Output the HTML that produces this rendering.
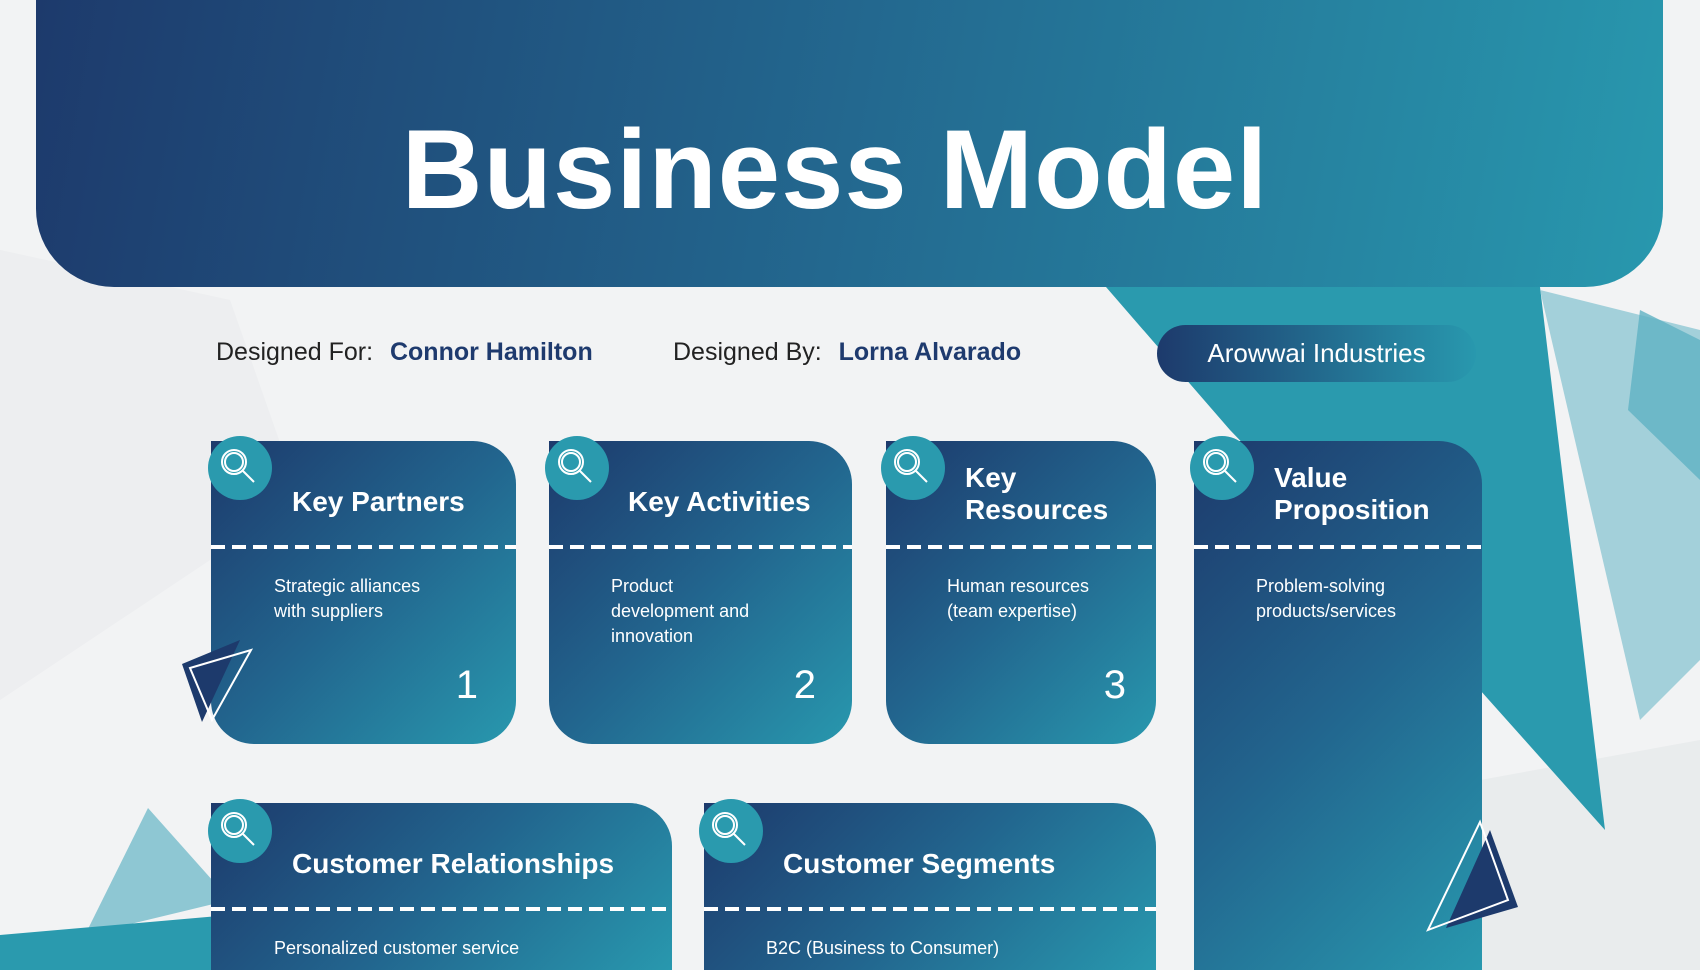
<!DOCTYPE html>
<html><head><meta charset="utf-8"><style>
*{margin:0;padding:0;box-sizing:border-box}
html,body{width:1700px;height:970px;overflow:hidden}
body{position:relative;background:#f2f3f4;font-family:"Liberation Sans",sans-serif}
.abs{position:absolute}
.hdr{left:36px;top:-10px;width:1627px;height:297px;border-radius:0 0 78px 78px;background:linear-gradient(100deg,#1d3a6c 0%,#23688f 50%,#2898ae 100%)}
.title{left:0;width:1670px;top:105px;text-align:center;color:#fff;font-size:112px;font-weight:bold;letter-spacing:1px}
.meta{top:338px;font-size:25px;color:#222}
.meta b{color:#1e3a6e;margin-left:10px}
.pill{left:1157px;top:325px;width:319px;height:57px;border-radius:29px;background:linear-gradient(90deg,#1d3a6c,#2898ae);color:#fff;font-size:26px;text-align:center;line-height:57px}
.card{border-radius:0 43px 43px 43px;background:linear-gradient(135deg,#1d3a6c 0%,#22658e 50%,#2898ae 100%);overflow:hidden}
.card .dash{position:absolute;left:0;right:0;top:104px;height:4px;background:repeating-linear-gradient(90deg,#fff 0 14px,transparent 14px 21px)}
.card h2{position:absolute;color:#fff;font-size:28px;font-weight:bold;line-height:32px}
.card p{position:absolute;color:#fff;font-size:18px;line-height:25px}
.card .n{position:absolute;color:#fff;font-size:40px}
</style></head><body>
<svg class="abs" style="left:0;top:0" width="1700" height="970">
<polygon points="0,250 230,300 300,500 0,700" fill="#e8eaec" opacity="0.5"/>
<polygon points="1370,800 1700,740 1700,970 1330,970" fill="#e6e8ea" opacity="0.7"/>
<polygon points="1106,287 1540,287 1605,830 1480,690 1230,430" fill="#2a9aae"/>
<polygon points="1540,290 1700,330 1700,660 1640,720" fill="#8ec7d3" opacity="0.8"/>
<polygon points="1640,310 1700,340 1700,480 1628,410" fill="#5fb2c3" opacity="0.8"/>
<polygon points="148,808 230,900 85,935" fill="#8ec7d3"/>
<polygon points="0,935 230,915 230,970 0,970" fill="#2a9aae"/>
</svg>
<div class="abs hdr"></div>
<div class="abs title">Business Model</div>
<div class="abs meta" style="left:216px">Designed For: <b>Connor Hamilton</b></div>
<div class="abs meta" style="left:673px">Designed By: <b>Lorna Alvarado</b></div>
<div class="abs pill">Arowwai Industries</div>

<div class="abs card" style="left:211px;top:441px;width:305px;height:303px"><h2 style="left:81px;top:45px">Key Partners</h2><div class="dash"></div><p style="left:63px;top:133px">Strategic alliances<br>with suppliers</p><div class="n" style="right:38px;top:222px">1</div></div>
<div class="abs card" style="left:549px;top:441px;width:303px;height:303px"><h2 style="left:79px;top:45px">Key Activities</h2><div class="dash"></div><p style="left:62px;top:133px">Product<br>development and<br>innovation</p><div class="n" style="right:36px;top:222px">2</div></div>
<div class="abs card" style="left:886px;top:441px;width:270px;height:303px"><h2 style="left:79px;top:21px">Key<br>Resources</h2><div class="dash"></div><p style="left:61px;top:133px">Human resources<br>(team expertise)</p><div class="n" style="right:30px;top:222px">3</div></div>
<div class="abs card" style="left:1194px;top:441px;width:288px;height:529px;border-radius:0 43px 0 0"><h2 style="left:80px;top:21px">Value<br>Proposition</h2><div class="dash"></div><p style="left:62px;top:133px">Problem-solving<br>products/services</p></div>
<div class="abs card" style="left:211px;top:803px;width:461px;height:167px;border-radius:0 43px 0 0"><h2 style="left:81px;top:45px">Customer Relationships</h2><div class="dash"></div><p style="left:63px;top:133px">Personalized customer service</p></div>
<div class="abs card" style="left:704px;top:803px;width:452px;height:167px;border-radius:0 43px 0 0"><h2 style="left:79px;top:45px">Customer Segments</h2><div class="dash"></div><p style="left:62px;top:133px">B2C (Business to Consumer)</p></div>

<svg class="abs" style="left:0;top:0" width="1700" height="970">
<g fill="#2a9aae"><circle cx="240" cy="468" r="32"/><circle cx="577" cy="468" r="32"/><circle cx="913" cy="468" r="32"/><circle cx="1222" cy="468" r="32"/><circle cx="240" cy="831" r="32"/><circle cx="731" cy="831" r="32"/></g>
<g fill="none" stroke="#fff" stroke-width="2">
<g transform="translate(240,468)"><circle cx="-6" cy="-6" r="12"/><circle cx="-6" cy="-6" r="9"/><path d="M3,3 L14,14"/></g>
<g transform="translate(577,468)"><circle cx="-6" cy="-6" r="12"/><circle cx="-6" cy="-6" r="9"/><path d="M3,3 L14,14"/></g>
<g transform="translate(913,468)"><circle cx="-6" cy="-6" r="12"/><circle cx="-6" cy="-6" r="9"/><path d="M3,3 L14,14"/></g>
<g transform="translate(1222,468)"><circle cx="-6" cy="-6" r="12"/><circle cx="-6" cy="-6" r="9"/><path d="M3,3 L14,14"/></g>
<g transform="translate(240,831)"><circle cx="-6" cy="-6" r="12"/><circle cx="-6" cy="-6" r="9"/><path d="M3,3 L14,14"/></g>
<g transform="translate(731,831)"><circle cx="-6" cy="-6" r="12"/><circle cx="-6" cy="-6" r="9"/><path d="M3,3 L14,14"/></g>
</g>
<polygon points="182,664 240,640 202,722" fill="#1d3a6c"/>
<polygon points="190,668 251,650 212,720" fill="none" stroke="#fff" stroke-width="2"/>
<polygon points="1490,830 1518,907 1446,928" fill="#1d3a6c"/>
<polygon points="1480,822 1508,900 1428,930" fill="none" stroke="#fff" stroke-width="2"/>
</svg>
</body></html>
